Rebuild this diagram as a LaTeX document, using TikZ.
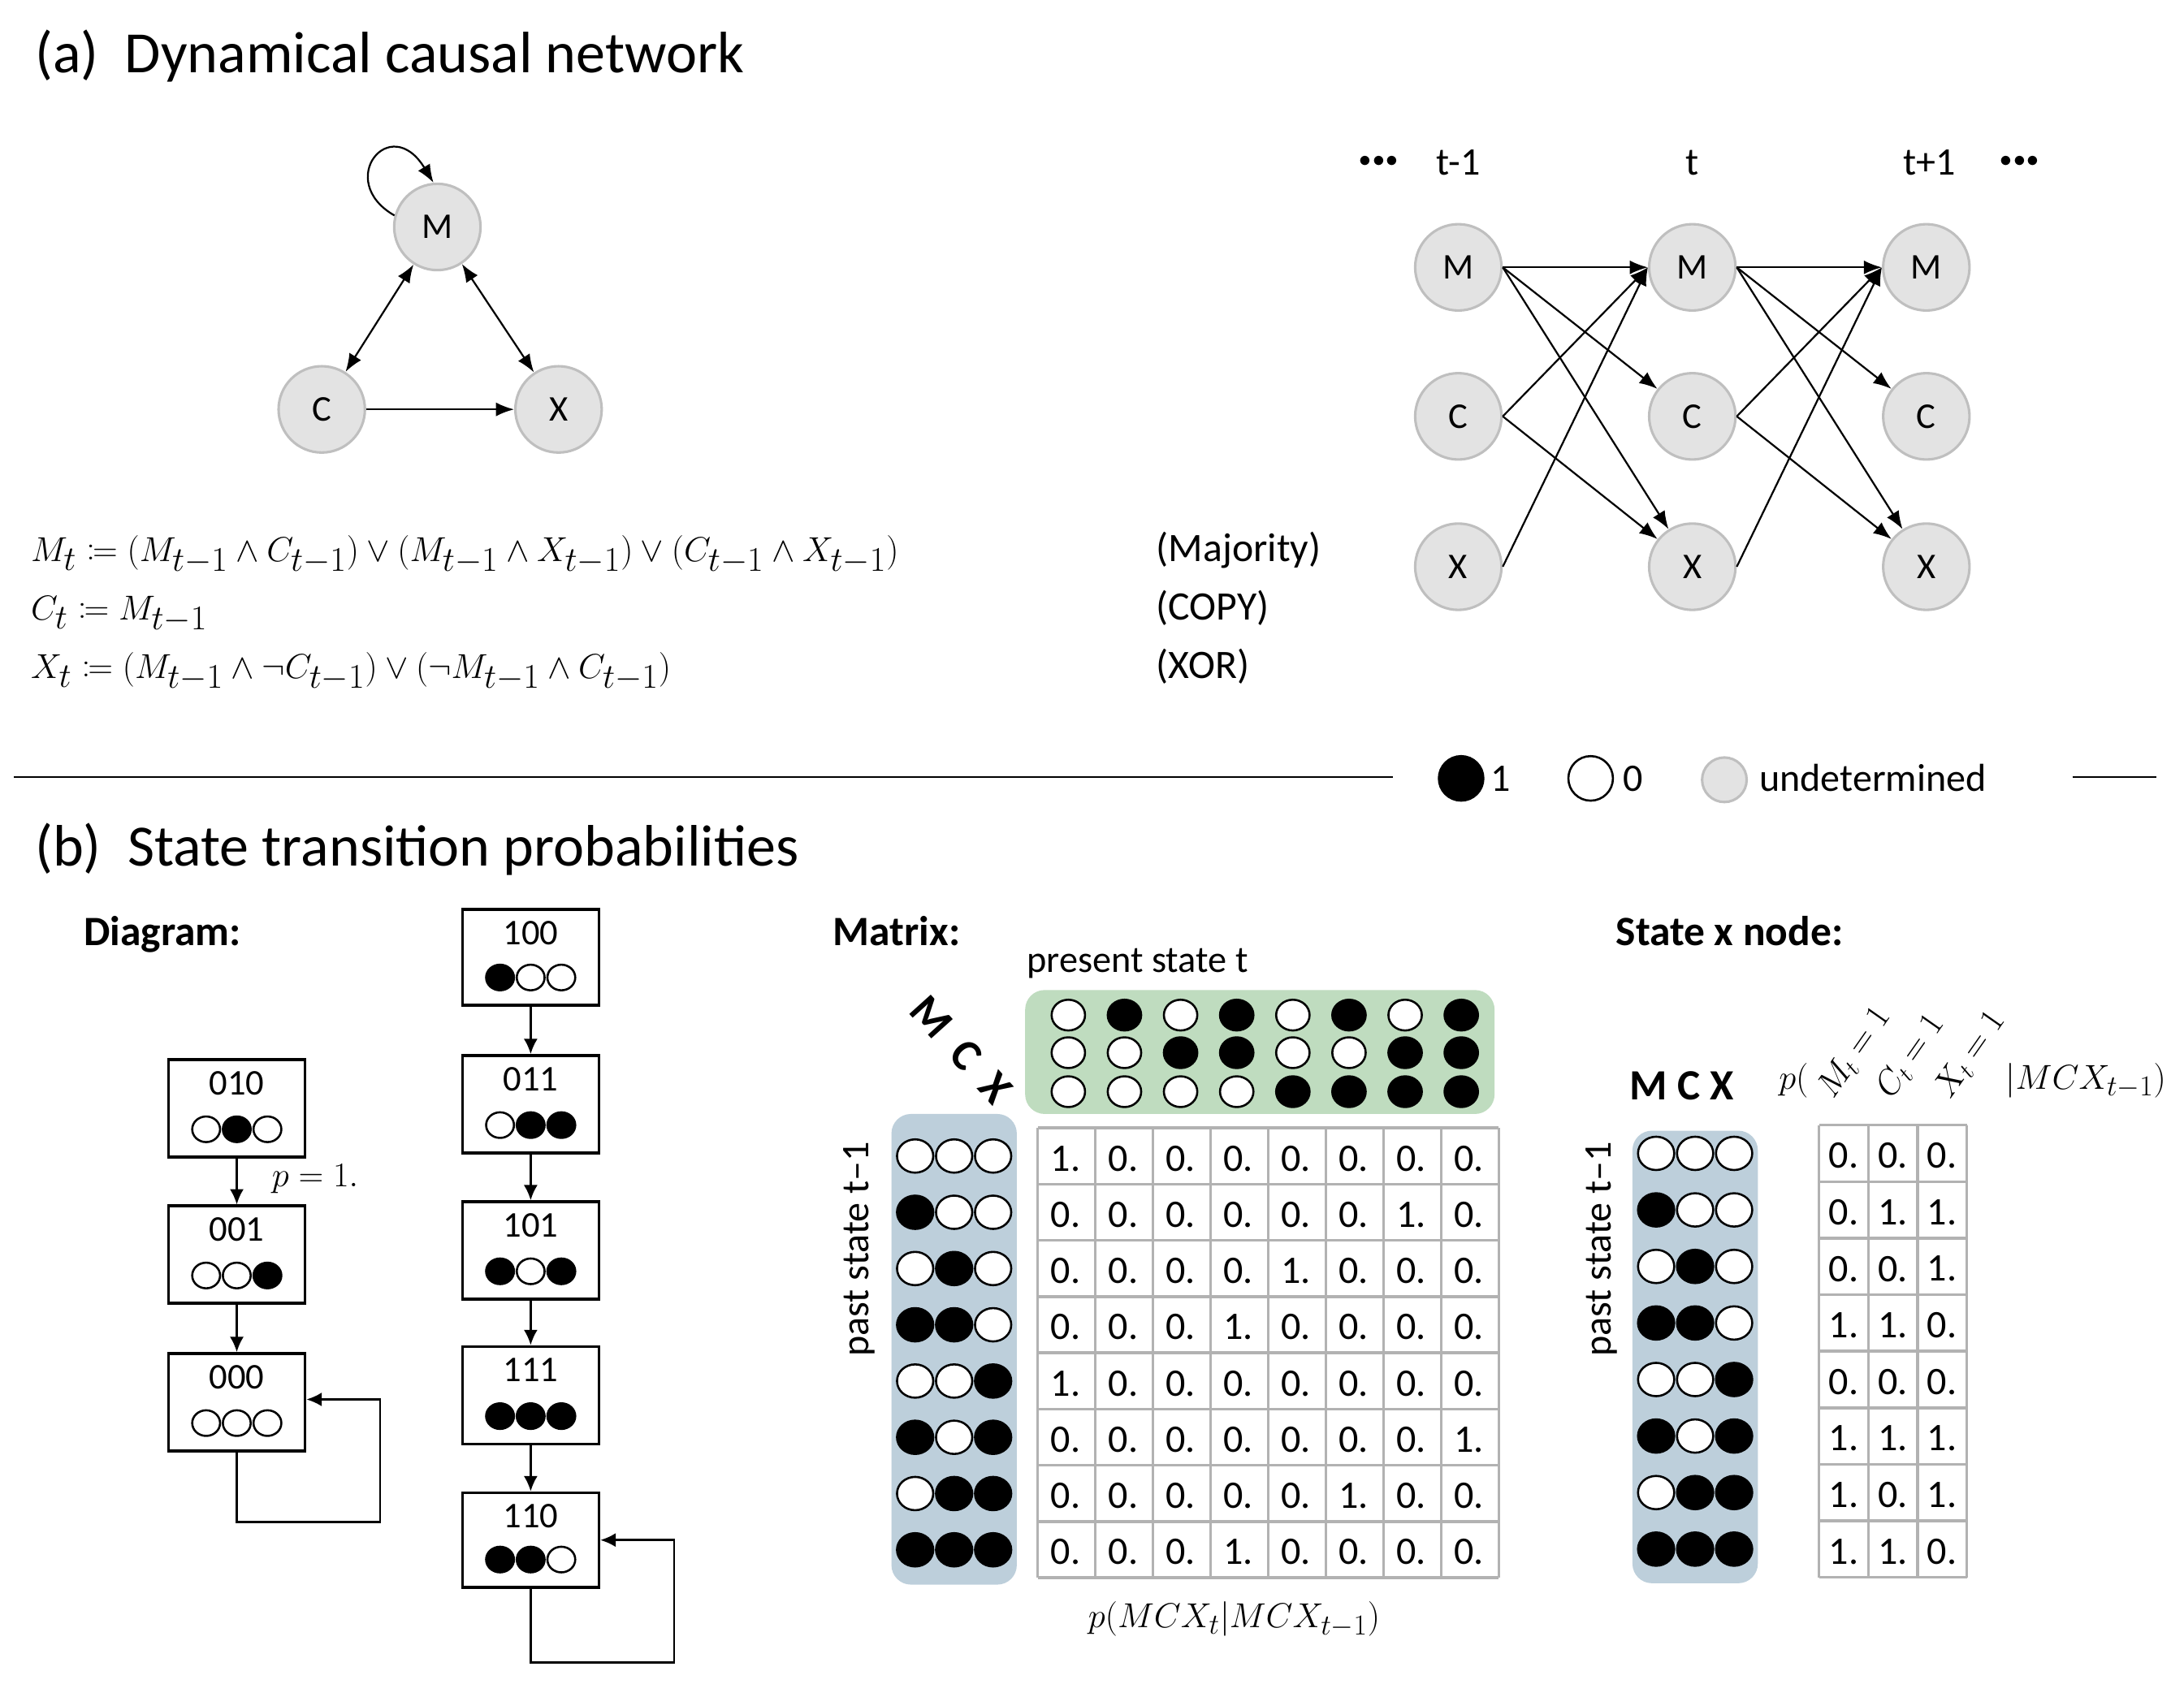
\documentclass[tikz,border=0pt]{standalone}
\usepackage{fontspec}
\setmainfont{Carlito}
\usepackage{mathtools}
\usetikzlibrary{arrows.meta}
\newcommand\cir[4]{\ifnum#3=1 \draw[line width=1.5pt,fill=black] ({#1},{#2}) ellipse [x radius=#4, y radius=#4*0.92];\else \draw[line width=1.5pt,fill=white] ({#1},{#2}) ellipse [x radius=#4, y radius=#4*0.92];\fi}
\newcommand\fs[1]{\fontsize{#1}{#1}\selectfont}
\begin{document}
\begin{tikzpicture}[x=1pt,y=-1pt,
 gn/.style={circle,draw=gray!50,fill=gray!22,line width=1.8pt,minimum size=62pt,inner sep=0pt,font=\fs{26}},
 arr/.style={-{Latex[length=13pt,width=10pt]},line width=1.3pt},
 darr/.style={{Latex[length=13pt,width=10pt]}-{Latex[length=13pt,width=10pt]},line width=1.3pt},
 sarr/.style={-{Latex[length=11pt,width=10pt]},line width=1.5pt},
 box/.style={draw,line width=2pt,minimum width=98pt,inner sep=0pt},
 txt/.style={inner sep=0pt,anchor=base west},
 gridl/.style={draw=gray!60,line width=2pt}]
\useasboundingbox (0,0) rectangle (1568,1209);
% ---------- (a)
\node[txt,font=\fs{42}] (ta) at (25,52) {(a)\ \ Dynamical causal network};
\node[gn] (M) at (314,163) {M};
\node[gn] (C) at (231,294) {C};
\node[gn] (X) at (401,294) {X};
\draw[darr] (M) -- (C);
\draw[darr] (M) -- (X);
\draw[arr] (C) -- (X);
\draw[arr] (M.165) .. controls (240,130) and (280,80) .. (M.95);
% time network
\foreach \n/\x in {1/1047,2/1215,3/1383}{
 \node[gn] (M\n) at (\x,192) {M};
 \node[gn] (C\n) at (\x,299) {C};
 \node[gn] (X\n) at (\x,407) {X};}
\foreach \a/\b in {1/2,2/3}{
 \draw[arr] (M\a.east) -- (M\b.west); \draw[arr] (M\a.east) -- (C\b); \draw[arr] (M\a.east) -- (X\b);
 \draw[arr] (C\a.east) -- (M\b.west); \draw[arr] (C\a.east) -- (X\b);
 \draw[arr] (X\a.east) -- (M\b.west);}
\node[font=\fs{28}] (l1) at (1047,117) {t-1};
\node[font=\fs{28}] (l2) at (1215,117) {t};
\node[font=\fs{28}] (l3) at (1385,117) {t+1};
\node[font=\fs{16}] (d1) at (990,116) {$\bullet\!\bullet\!\bullet$};
\node[font=\fs{16}] (d2) at (1450,116) {$\bullet\!\bullet\!\bullet$};
% equations
\node[txt,font=\fs{37}] (e1) at (22,403) {$M_t \coloneqq (M_{t-1}\wedge C_{t-1})\vee(M_{t-1}\wedge X_{t-1})\vee(C_{t-1}\wedge X_{t-1})$};
\node[txt,font=\fs{37}] (e2) at (22,445) {$C_t \coloneqq M_{t-1}$};
\node[txt,font=\fs{37}] (e3) at (22,487) {$X_t \coloneqq (M_{t-1}\wedge \neg C_{t-1})\vee(\neg M_{t-1}\wedge C_{t-1})$};
\node[txt,font=\fs{29}] (n1) at (830,403) {(Majority)};
\node[txt,font=\fs{29}] (n2) at (830,445) {(COPY)};
\node[txt,font=\fs{29}] (n3) at (830,487) {(XOR)};
% separator and legend
\draw[line width=1.3pt] (10,558) -- (1000,558);
\draw[line width=1.3pt] (1488,558) -- (1548,558);
\draw[line width=1.5pt,fill=black] (1049,559) circle (16);
\node[txt,font=\fs{28}] (k1) at (1070,568) {1};
\draw[line width=1.5pt,fill=white] (1142,559) circle (16);
\node[txt,font=\fs{28}] (k0) at (1165,568) {0};
\draw[line width=1.8pt,draw=gray!50,fill=gray!22] (1238,560) circle (16);
\node[txt,font=\fs{28}] (ku) at (1263,568) {undetermined};
% ---------- (b)
\node[txt,font=\fs{42}] (tb) at (25,622) {(b)\ \ State transition probabilities};
\node[txt,font=\fs{30}\bfseries] (hd) at (60,679) {Diagram:};
\node[txt,font=\fs{30}\bfseries] (hm) at (598,679) {Matrix:};
\node[txt,font=\fs{30}\bfseries] (hs) at (1160,679) {State x node:};
% diagram boxes
\foreach \nm/\x/\ya/\yb/\m/\c/\xx in {b010/170/761/831/0/1/0, b001/170/866/936/0/0/1, b000/170/972/1042/0/0/0,
  b100/381/653/722/1/0/0, b011/381/758/828/0/1/1, b101/381/863/933/1/0/1, b111/381/967/1037/1/1/1, b110/381/1072/1140/1/1/0}{
 \node[box,minimum height={\yb-\ya}] (\nm) at (\x,{(\ya+\yb)/2}) {};
 \node[font=\fs{26}] at (\x,\ya+17) {\m\c\xx};
 \cir{\x-22}{\yb-20}{\m}{10}\cir{\x}{\yb-20}{\c}{10}\cir{\x+22}{\yb-20}{\xx}{10}}
\draw[sarr] (b010) -- (b001);
\draw[sarr] (b001) -- (b000);
\draw[sarr] (b100) -- (b011);
\draw[sarr] (b011) -- (b101);
\draw[sarr] (b101) -- (b111);
\draw[sarr] (b111) -- (b110);
\draw[sarr] (b000.south) |- (273,1093) |- (b000.east |- 0,1005);
\draw[sarr] (b110.south) |- (484,1194) |- (b110.east |- 0,1106);
\node[txt,font=\fs{30}] (pl) at (195,852) {$p=1.$};
% matrix
\node[txt,font=\fs{27}] (ps) at (737,698) {present state t};
\fill[green!45!black!25!white,rounded corners=14pt] (736,711) rectangle (1073,800);
\fill[blue!40!cyan!30!gray!40!white,rounded corners=14pt] (640,800) rectangle (730,1138);
\foreach \j in {0,...,7}{
 \pgfmathtruncatemacro\bm{mod(\j,2)}\pgfmathtruncatemacro\bc{mod(floor(\j/2),2)}\pgfmathtruncatemacro\bx{floor(\j/4)}
 \cir{767+\j*40.3}{729}{\bm}{12}\cir{767+\j*40.3}{756}{\bc}{12}\cir{767+\j*40.3}{784}{\bx}{12}}
\node[font=\fs{32}\bfseries,rotate=-48] (mcx1) at (690,754) {M\ \ C\ \ X};
\foreach \r/\o in {0/0,1/6,2/4,3/3,4/0,5/7,6/5,7/3}{
 \pgfmathtruncatemacro\bm{mod(\r,2)}\pgfmathtruncatemacro\bc{mod(floor(\r/2),2)}\pgfmathtruncatemacro\bx{floor(\r/4)}
 \cir{657}{810+(\r+0.5)*40.4}{\bm}{13}\cir{685}{810+(\r+0.5)*40.4}{\bc}{13}\cir{713}{810+(\r+0.5)*40.4}{\bx}{13}
 \foreach \c in {0,...,7}{\node[font=\fs{28}] at ({745+\c*41.375+20},{810+\r*40.375+22}) {\ifnum\c=\o\relax 1.\else 0.\fi};}}
\foreach \i in {0,...,8}{\draw[gridl] ({745+\i*41.375},810) -- ({745+\i*41.375},1133);
 \draw[gridl] (745,{810+\i*40.375}) -- (1076,{810+\i*40.375});}
\node[font=\fs{28},rotate=90] (pst1) at (617,897) {past state t–1};
\node[font=\fs{28}] (pm) at (886,1163) {$p(MCX_t|MCX_{t-1})$};
% state x node
\fill[blue!40!cyan!30!gray!40!white,rounded corners=14pt] (1172,812) rectangle (1262,1137);
\node[txt,font=\fs{31}\bfseries] (mcx2) at (1170,790) {M\ C\ X};
\node[font=\fs{28},rotate=90] (pst2) at (1150,897) {past state t–1};
\foreach \r/\va/\vb/\vc in {0/0/0/0,1/0/1/1,2/0/0/1,3/1/1/0,4/0/0/0,5/1/1/1,6/1/0/1,7/1/1/0}{
 \pgfmathtruncatemacro\bm{mod(\r,2)}\pgfmathtruncatemacro\bc{mod(floor(\r/2),2)}\pgfmathtruncatemacro\bx{floor(\r/4)}
 \cir{1189}{808+(\r+0.5)*40.6}{\bm}{13}\cir{1217}{808+(\r+0.5)*40.6}{\bc}{13}\cir{1245}{808+(\r+0.5)*40.6}{\bx}{13}
 \node[font=\fs{28}] at ({1306+17.6},{808+\r*40.6+22}) {\va.};
 \node[font=\fs{28}] at ({1306+35.3+17.6},{808+\r*40.6+22}) {\vb.};
 \node[font=\fs{28}] at ({1306+70.6+17.6},{808+\r*40.6+22}) {\vc.};}
\foreach \i in {0,...,3}{\draw[gridl] ({1306+\i*35.3},808) -- ({1306+\i*35.3},1133);}
\foreach \i in {0,...,8}{\draw[gridl] (1306,{808+\i*40.6}) -- (1412,{808+\i*40.6});}
\node[txt,font=\fs{28}] (pp) at (1277,782) {$p($};
\node[txt,font=\fs{26},rotate=55] (h1) at (1316,790) {$M_t=1$};
\node[txt,font=\fs{26},rotate=55] (h2) at (1358,790) {$C_t=1$};
\node[txt,font=\fs{26},rotate=55] (h3) at (1400,790) {$X_t=1$};
\node[txt,font=\fs{28}] (pq) at (1440,782) {$|MCX_{t-1})$};
\end{tikzpicture}
\end{document}
